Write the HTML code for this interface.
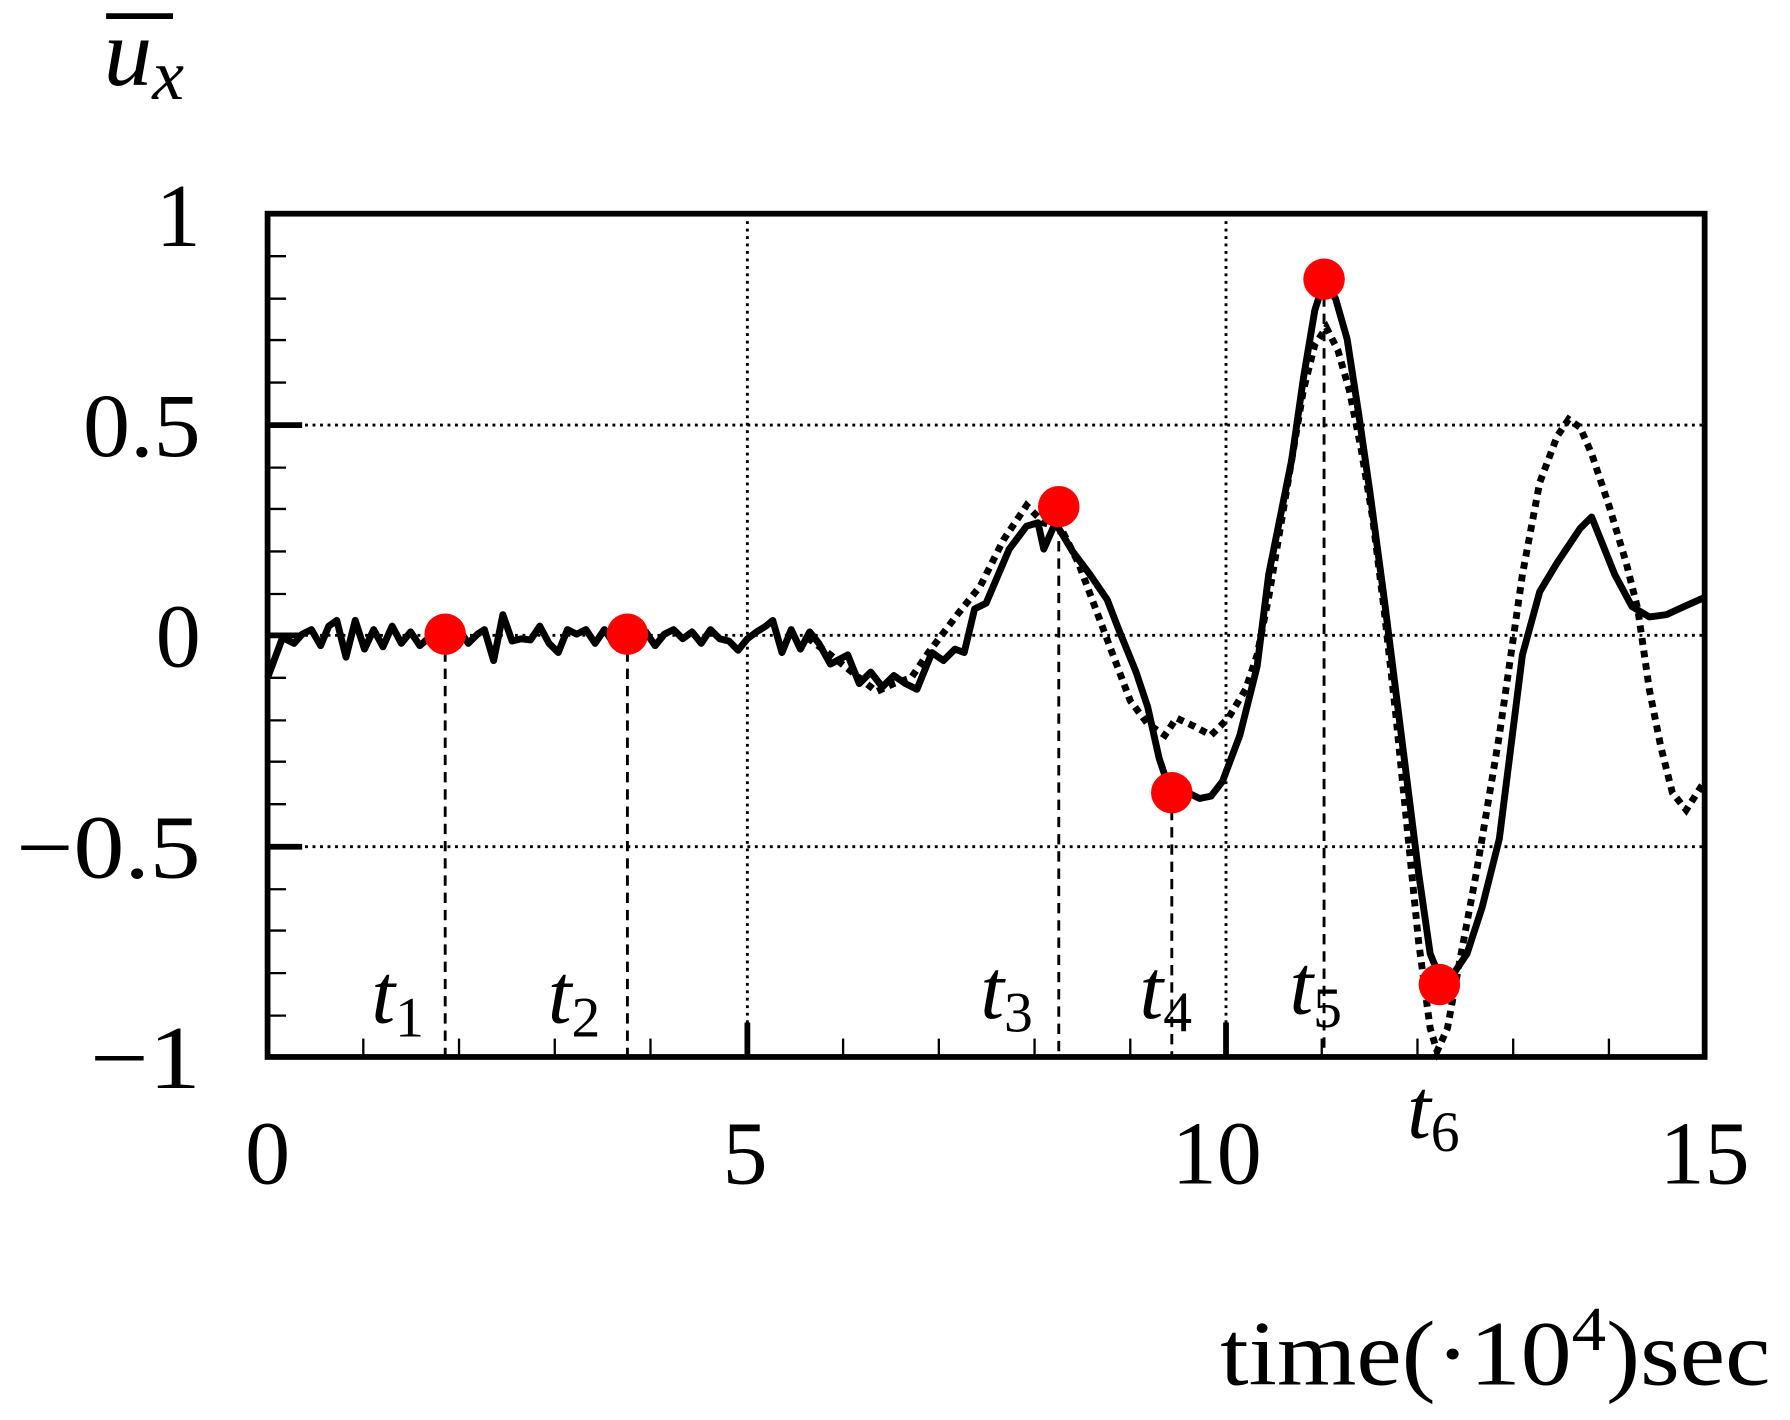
<!DOCTYPE html>
<html><head><style>html,body{margin:0;padding:0;background:#fff}svg{display:block}</style></head>
<body>
<svg width="1790" height="1420" viewBox="0 0 1552 1236" preserveAspectRatio="none" xmlns="http://www.w3.org/2000/svg" font-family="'Liberation Serif',serif">
<rect width="1552" height="1236" fill="#fff"/>
<g stroke="#000" stroke-width="2.5" stroke-dasharray="2.5,4">
<line x1="648" y1="186" x2="648" y2="920"/><line x1="1063" y1="186" x2="1063" y2="920"/>
<line x1="232" y1="370" x2="1478" y2="370"/><line x1="232" y1="553" x2="1478" y2="553"/><line x1="232" y1="737" x2="1478" y2="737"/>
</g>
<g stroke="#000" stroke-width="2">
<line x1="232" y1="223" x2="248" y2="223"/><line x1="232" y1="260" x2="248" y2="260"/><line x1="232" y1="296" x2="248" y2="296"/><line x1="232" y1="333" x2="248" y2="333"/>
<line x1="232" y1="407" x2="248" y2="407"/><line x1="232" y1="443" x2="248" y2="443"/><line x1="232" y1="480" x2="248" y2="480"/><line x1="232" y1="517" x2="248" y2="517"/>
<line x1="232" y1="590" x2="248" y2="590"/><line x1="232" y1="627" x2="248" y2="627"/><line x1="232" y1="663" x2="248" y2="663"/><line x1="232" y1="700" x2="248" y2="700"/>
<line x1="232" y1="774" x2="248" y2="774"/><line x1="232" y1="810" x2="248" y2="810"/><line x1="232" y1="847" x2="248" y2="847"/><line x1="232" y1="884" x2="248" y2="884"/>
<line x1="315" y1="920" x2="315" y2="904"/><line x1="398" y1="920" x2="398" y2="904"/><line x1="481" y1="920" x2="481" y2="904"/><line x1="564" y1="920" x2="564" y2="904"/>
<line x1="731" y1="920" x2="731" y2="904"/><line x1="814" y1="920" x2="814" y2="904"/><line x1="897" y1="920" x2="897" y2="904"/><line x1="980" y1="920" x2="980" y2="904"/>
<line x1="1146" y1="920" x2="1146" y2="904"/><line x1="1229" y1="920" x2="1229" y2="904"/><line x1="1312" y1="920" x2="1312" y2="904"/><line x1="1395" y1="920" x2="1395" y2="904"/>
</g>
<g stroke="#000" stroke-width="5">
<line x1="232" y1="370" x2="262" y2="370"/><line x1="232" y1="553" x2="262" y2="553"/><line x1="232" y1="737" x2="262" y2="737"/>
<line x1="648" y1="920" x2="648" y2="890"/><line x1="1063" y1="920" x2="1063" y2="890"/>
</g>
<g stroke="#000" stroke-width="2.5" stroke-dasharray="9,6">
<line x1="386" y1="552" x2="386" y2="920"/><line x1="544" y1="552" x2="544" y2="920"/><line x1="918" y1="441" x2="918" y2="920"/><line x1="1016" y1="690" x2="1016" y2="920"/><line x1="1148" y1="243" x2="1148" y2="920"/>
</g>
<polyline fill="none" stroke="#000" stroke-width="6" stroke-dasharray="6,5" points="700,555 720,570 745,590 760,602 775,595 790,590 805,568 830,535 850,510 870,470 890,440 905,455 920,460 935,490 950,530 965,570 980,610 995,630 1010,640 1020,625 1035,632 1050,640 1065,625 1080,600 1090,570 1100,520 1110,460 1120,400 1130,340 1140,300 1150,285 1160,305 1170,340 1180,390 1190,450 1200,530 1210,620 1220,720 1230,820 1240,895 1246,915 1255,895 1265,840 1280,760 1300,640 1320,500 1335,420 1350,380 1360,365 1370,372 1380,395 1395,440 1410,490 1420,530 1430,600 1440,650 1450,690 1462,705 1478,680"/>
<polyline fill="none" stroke="#000" stroke-width="6" stroke-linejoin="round" points="232,590 245,555 255,560 262,552 270,548 278,562 285,545 292,540 300,572 308,540 316,565 324,548 332,563 340,545 348,560 356,550 364,562 372,555 380,552 390,555 398,548 406,560 414,552 420,548 428,575 436,535 444,558 452,556 460,557 468,545 476,560 484,568 492,548 500,552 508,548 516,560 524,548 532,560 544,552 552,556 560,550 568,562 576,552 584,548 592,556 600,550 608,560 616,548 624,556 632,558 640,566 648,556 656,550 664,545 670,540 678,568 686,548 694,565 702,550 710,560 720,578 735,570 745,595 755,585 765,598 775,588 785,595 795,600 808,568 818,575 828,565 836,568 845,530 855,525 875,478 890,458 900,455 905,478 915,455 930,480 945,500 960,522 970,548 985,585 995,615 1005,660 1015,690 1030,690 1040,695 1050,693 1060,680 1075,640 1090,580 1100,500 1110,450 1120,400 1130,330 1140,270 1148,245 1158,260 1168,295 1178,360 1188,430 1200,520 1210,600 1220,680 1230,760 1240,830 1250,855 1262,845 1272,830 1285,790 1300,730 1310,650 1320,570 1335,515 1350,490 1360,475 1370,460 1380,450 1390,475 1400,500 1415,528 1430,537 1445,535 1460,528 1478,520"/>
<rect x="232" y="186" width="1246" height="734" fill="none" stroke="#000" stroke-width="5"/>
<g fill="#f00">
<circle cx="386" cy="552" r="18"/><circle cx="544" cy="552" r="18"/><circle cx="918" cy="441" r="18"/><circle cx="1016" cy="690" r="18"/><circle cx="1148" cy="243" r="18"/><circle cx="1248" cy="857" r="18"/>
</g>
<g font-size="78" text-anchor="end">
<text x="174" y="214">1</text><text x="174" y="397" textLength="102" lengthAdjust="spacingAndGlyphs">0.5</text><text x="174" y="580">0</text><text x="174" y="764" textLength="160" lengthAdjust="spacingAndGlyphs">−0.5</text><text x="174" y="947" textLength="96" lengthAdjust="spacingAndGlyphs">−1</text>
</g>
<g font-size="78" text-anchor="middle">
<text x="232" y="1030">0</text><text x="646" y="1030">5</text><text x="1055" y="1030">10</text><text x="1478" y="1030">15</text>
</g>
<g font-size="74" font-style="italic">
<text x="322" y="890">t<tspan font-size="50" font-style="normal" dy="12">1</tspan></text>
<text x="475" y="890">t<tspan font-size="50" font-style="normal" dy="12">2</tspan></text>
<text x="850" y="886">t<tspan font-size="50" font-style="normal" dy="12">3</tspan></text>
<text x="988" y="886">t<tspan font-size="50" font-style="normal" dy="12">4</tspan></text>
<text x="1118" y="882">t<tspan font-size="50" font-style="normal" dy="12">5</tspan></text>
<text x="1220" y="990">t<tspan font-size="50" font-style="normal" dy="12">6</tspan></text>
<text x="90" y="74" font-size="84">u<tspan font-size="62" dy="12">x</tspan></text>
</g>
<line x1="92" y1="14" x2="150" y2="14" stroke="#000" stroke-width="5"/>
<text x="1058" y="1205" font-size="80" textLength="477" lengthAdjust="spacingAndGlyphs">time(·10<tspan font-size="54" dy="-30">4</tspan><tspan dy="30">)sec</tspan></text>
</svg>
</body></html>
